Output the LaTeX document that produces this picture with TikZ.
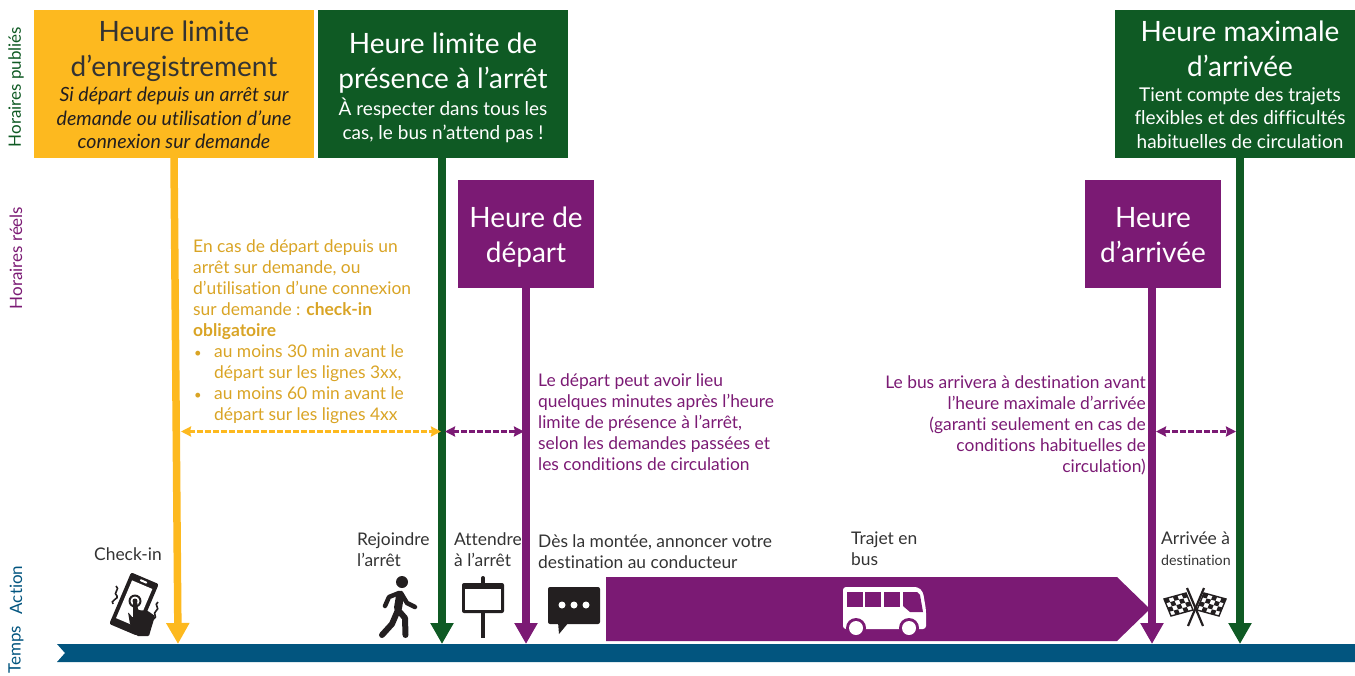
\documentclass[tikz,border=0pt]{standalone}
\usepackage{fontspec}
\setmainfont{Lato}[Ligatures=NoCommon]
\usetikzlibrary{arrows.meta}
\definecolor{cyel}{HTML}{FDB91F}
\definecolor{cyeltxt}{HTML}{D9A425}
\definecolor{cgrn}{HTML}{0F5A24}
\definecolor{cpur}{HTML}{7B1A74}
\definecolor{cnavy}{HTML}{02557F}
\definecolor{cink}{HTML}{231F20}
\definecolor{ctxt}{HTML}{333333}
\newcommand\hfont{\fontsize{28}{35}\selectfont}
\newcommand\sfont{\fontsize{19}{23.5}\selectfont}
\newcommand\bfont{\fontsize{17.4}{21}\selectfont}
\newcommand\flagicon[6]{%
 \fill[white] (#1,#2) -- ++(#3,#4) -- ++(#5,#6) -- ++({-(#3)},{-(#4)}) -- cycle;
 \foreach \i in {0,...,4}\foreach \j in {0,...,3}{%
  \ifodd\numexpr\i+\j\relax\else
  \fill[cink] ({#1+\i*#3/5+\j*#5/4},{#2+\i*#4/5+\j*#6/4}) -- ({#1+(\i+1)*#3/5+\j*#5/4},{#2+(\i+1)*#4/5+\j*#6/4}) -- ({#1+(\i+1)*#3/5+(\j+1)*#5/4},{#2+(\i+1)*#4/5+(\j+1)*#6/4}) -- ({#1+\i*#3/5+(\j+1)*#5/4},{#2+\i*#4/5+(\j+1)*#6/4}) -- cycle;
  \fi}%
 \draw[cink,line width=1.4pt] (#1,#2) -- ++(#3,#4) -- ++(#5,#6) -- ++({-(#3)},{-(#4)}) -- cycle;}
\tikzset{
 x=1pt,y=-1pt,
 headbox/.style={inner sep=0pt,outer sep=0pt,anchor=north west},
 title/.style={anchor=north,inner sep=0pt,align=center,font=\hfont},
 subtitle/.style={anchor=north,inner sep=0pt,align=center,font=\sfont},
 flow/.style={line width=7.5pt,-{Triangle[width=22pt,length=21pt]}},
 span/.style={line width=2.4pt,dash pattern=on 5.5pt off 2.5pt,{Stealth[length=10pt,width=10pt,inset=1pt]}-{Stealth[length=10pt,width=10pt,inset=1pt]}},
 side/.style={rotate=90,font=\fontsize{17}{19}\selectfont,inner sep=0pt},
 note/.style={anchor=north west,inner sep=0pt,align=left,font=\bfont},
 act/.style={anchor=north west,inner sep=0pt,align=left,font=\bfont,text=ctxt},
}
\begin{document}
\begin{tikzpicture}
\useasboundingbox (0,0) rectangle (1355,675);
% header boxes
\node[headbox,fill=cyel,minimum width=280pt,minimum height=148pt] (checkbox) at (34,10) {};
\node[title,text=ctxt] (checktitle) at (174,21) {Heure limite\\d’enregistrement};
\node[subtitle,text=cink,font=\fontsize{19.6}{23.5}\selectfont\itshape] (checksub) at (174,87) {Si départ depuis un arrêt sur\\demande ou utilisation d’une\\connexion sur demande};
\node[headbox,fill=cgrn,minimum width=250pt,minimum height=148pt] (stopbox) at (318,10) {};
\node[title,text=white] (stoptitle) at (443,33) {Heure limite de\\présence à l’arrêt};
\node[subtitle,text=white] (stopsub) at (443,98) {À respecter dans tous les\\cas, le bus n’attend pas !};
\node[headbox,fill=cgrn,minimum width=240pt,minimum height=148pt] (maxbox) at (1115,10) {};
\node[title,text=white] (maxtitle) at (1240,21) {Heure maximale\\d’arrivée};
\node[subtitle,text=white] (maxsub) at (1240,87) {Tient compte des trajets\\flexibles et des difficultés\\habituelles de circulation};
\node[headbox,fill=cpur,minimum width=136pt,minimum height=108pt] (depbox) at (458,180) {};
\node[title,text=white] (deptitle) at (526,207) {Heure de\\départ};
\node[headbox,fill=cpur,minimum width=136pt,minimum height=108pt] (arrbox) at (1085,180) {};
\node[title,text=white] (arrtitle) at (1153,207) {Heure\\d’arrivée};
% side labels
\node[side,text=cgrn] (s1) at (16,87) {Horaires publiés};
\node[side,text=cpur] (s2) at (16,258) {Horaires réels};
\node[side,text=cnavy] (s3) at (16,590) {Action};
\node[side,text=cnavy] (s4) at (16,650) {Temps};
% timeline
\fill[cnavy] (57,644) -- (1355,644) -- (1355,662) -- (57,662) -- (65,653) -- cycle;
% bus arrow
\fill[cpur] (606,577) -- (1117,577) -- (1150,609) -- (1117,641) -- (606,641) -- cycle;
% coordinates
\coordinate (ys) at (174,158); \coordinate (ye) at (178,644);
\coordinate (gs) at (442,158); \coordinate (ge) at (442,644);
\coordinate (ps) at (526,288); \coordinate (pe) at (526,644);
\coordinate (qs) at (1152,288); \coordinate (qe) at (1152,644);
\coordinate (hs) at (1240,158); \coordinate (he) at (1240,644);
\draw[flow,cyel] (ys) -- (ye);
\draw[flow,cgrn] (gs) -- (ge);
\draw[flow,cpur] (ps) -- (pe);
\draw[flow,cpur] (qs) -- (qe);
\draw[flow,cgrn] (hs) -- (he);
% span arrows
\coordinate (a1) at (181,431.5); \coordinate (a2) at (441,431.5);
\coordinate (b1) at (445,431.5); \coordinate (b2) at (524,431.5);
\coordinate (c1) at (1156,431.5); \coordinate (c2) at (1236,431.5);
\draw[span,cyel] (a1) -- (a2);
\draw[span,cpur] (b1) -- (b2);
\draw[span,cpur] (c1) -- (c2);
% notes
\node[note,text=cyeltxt] (n1) at (193,239) {En cas de départ depuis un\\arrêt sur demande, ou\\d’utilisation d’une connexion\\sur demande : \textbf{check-in}\\\textbf{obligatoire}\\\makebox[21pt][l]{\hspace{1pt}\fontsize{13}{21}\selectfont•}au moins 30 min avant le\\\hspace*{21pt}départ sur les lignes 3xx,\\\makebox[21pt][l]{\hspace{1pt}\fontsize{13}{21}\selectfont•}au moins 60 min avant le\\\hspace*{21pt}départ sur les lignes 4xx};
\node[note,text=cpur] (n2) at (538,373) {Le départ peut avoir lieu\\quelques minutes après l’heure\\limite de présence à l’arrêt,\\selon les demandes passées et\\les conditions de circulation};
\node[note,text=cpur,anchor=north east,align=right] (n3) at (1146,375) {Le bus arrivera à destination avant\\l’heure maximale d’arrivée\\(garanti seulement en cas de\\conditions habituelles de\\circulation)};
% actions
\node[act] (t1) at (94,547) {Check-in};
\node[act] (t2) at (357,532) {Rejoindre\\l’arrêt};
\node[act] (t3) at (454,532) {Attendre\\à l’arrêt};
\node[act] (t4) at (538,534) {Dès la montée, annoncer votre\\destination au conducteur};
\node[act] (t5) at (851,532) {Trajet en\\bus};
\node[act] (t6) at (1161,532) {Arrivée à\\{\fontsize{14.2}{21}\selectfont destination}};
% phone icon
\begin{scope}[shift={(134,604)},rotate=-23]
 \fill[cink,rounded corners=2pt] (-15,-28) rectangle (15,28);
 \fill[white] (-11,-21) rectangle (11,20);
 \fill[white,rounded corners=1pt] (-4,-25.5) rectangle (4,-23.5);
\end{scope}
\fill[cink] (135,601) circle (6.5);
\fill[white] (135,601) circle (4.5);
\fill[cink] (135,601) circle (2.5);
\fill[cink,rounded corners=1pt] (133,601) -- (137,601) -- (138,610) -- (148,611) -- (155,616) -- (151,629) -- (149,636) -- (137,636) -- (130,624) -- (128,612) -- (133,618) -- cycle;
\draw[cink,line width=1.6pt] (116,586) .. controls (121,589) and (112,593) .. (117,596) .. controls (120,598) and (109,601) .. (113,604);
\draw[cink,line width=1.6pt] (158,602) .. controls (153,605) and (161,608) .. (156,611) .. controls (152,614) and (158,616) .. (154,619);
% walker icon
\fill[cink] (402,582) circle (6);
\draw[cink,line width=8pt,line cap=round,line join=round] (400,596) -- (398,608);
\draw[cink,line width=6pt,line cap=round,line join=round] (398,610) -- (392,624) -- (382,635);
\draw[cink,line width=6pt,line cap=round,line join=round] (398,610) -- (405,618) -- (405.5,635);
\draw[cink,line width=4.5pt,line cap=round,line join=round] (399,593) -- (389,597) -- (385,606);
\draw[cink,line width=4.5pt,line cap=round,line join=round] (401,593) -- (407,603) -- (415,607);
% sign icon
\draw[cink,line width=4pt,line cap=round] (483,578) -- (483,584);
\draw[cink,line width=4pt] (483,612) -- (483,638);
\fill[cink,rounded corners=2pt] (462,583) rectangle (504,613);
\fill[white] (465,589) rectangle (501,610);
% bubble icon
\fill[cink,rounded corners=2pt] (548,587) rectangle (600,624);
\fill[cink] (558,622) -- (569,622) -- (559,634) -- cycle;
\foreach \dx in {562,574,586}{\fill[white] (\dx,605) circle (3.5);}
% bus icon
\fill[white,rounded corners=3pt] (843,587) -- (918,587) -- (923,592) -- (926,610) -- (926,629) -- (843,629) -- cycle;
\foreach \wx in {847,865,884}{\fill[cpur] (\wx,592) rectangle (\wx+15.5,607);}
\fill[cpur] (903,592) -- (917,592) -- (920,595) -- (923,612) -- (910,612) -- (903,606) -- cycle;
\foreach \wx in {856,909}{\fill[cpur] (\wx,628) circle (10); \fill[white] (\wx,628) circle (7);}
% flags
\flagicon{1186}{593}{-22}{6}{7}{17}
\flagicon{1204}{593}{22}{6}{-7}{17}
\draw[cink,line width=2.2pt] (1187,588) -- (1203,626);
\draw[cink,line width=2.2pt] (1204,588) -- (1188,626);
\end{tikzpicture}
\end{document}
